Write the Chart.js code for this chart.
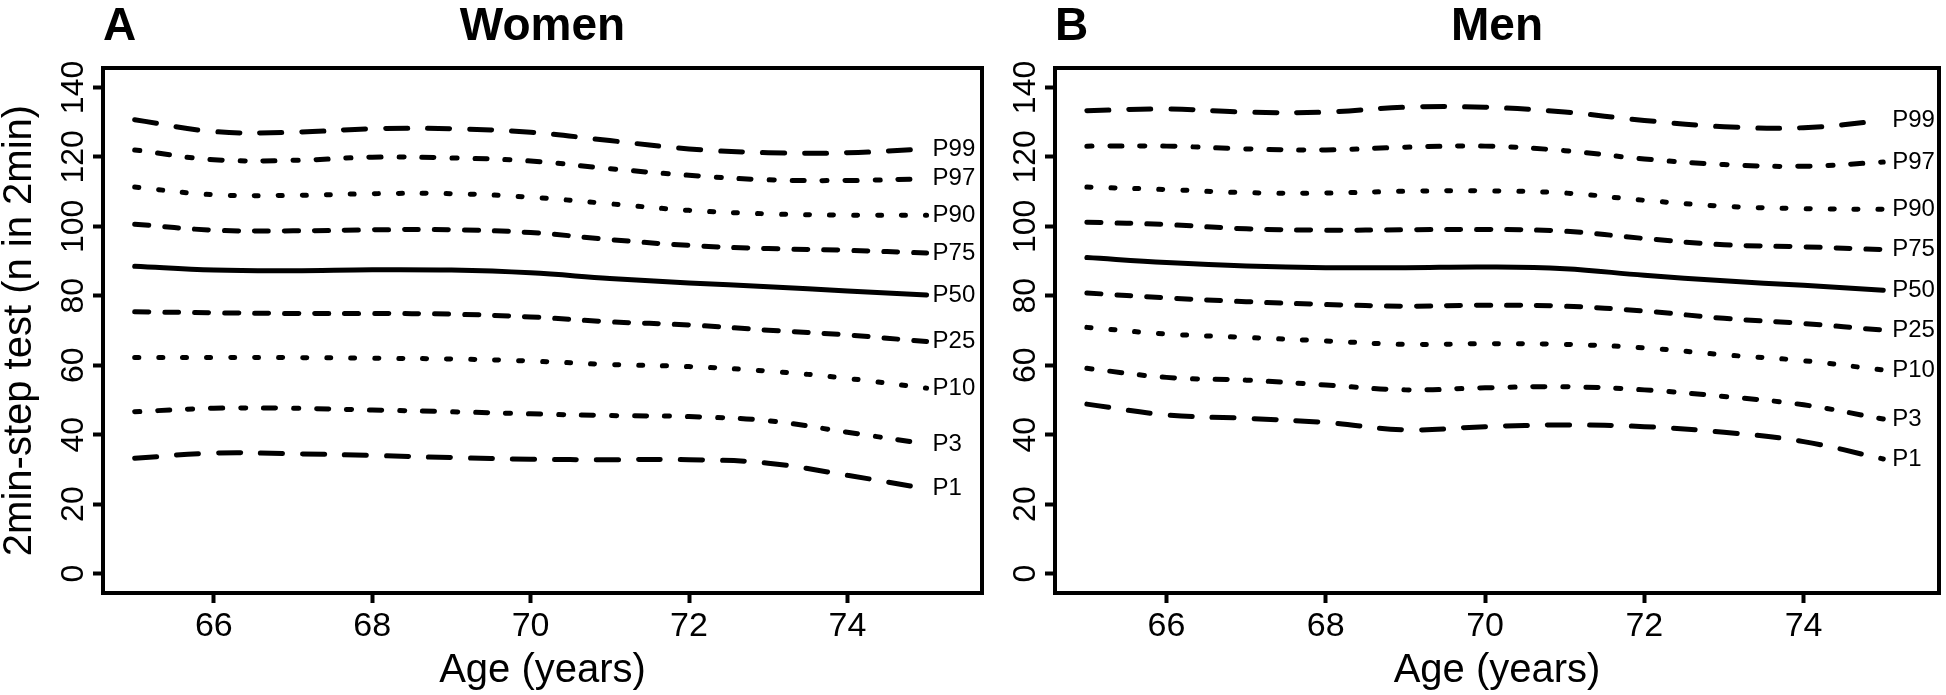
<!DOCTYPE html>
<html>
<head>
<meta charset="utf-8">
<script src="https://cdn.jsdelivr.net/npm/chart.js@4.4.1/dist/chart.umd.min.js"></script>
<style>
  html, body { margin: 0; padding: 0; background: #fff; }
  #wrap { position: relative; width: 1946px; height: 695px; overflow: hidden; }
  canvas { position: absolute; top: 0; }
</style>
</head>
<body>
<div id="wrap">
  <canvas id="women" width="1000" height="695" style="left:0px"></canvas>
  <canvas id="men" width="946" height="695" style="left:1000px"></canvas>
</div>
<script>
// ages (x) and axis ticks
const ages = [65, 66, 67, 68, 69, 70, 71, 72, 73, 74, 75];
const xTicks = [66, 68, 70, 72, 74];
const yTicks = [0, 20, 40, 60, 80, 100, 120, 140];
const percentiles = ['P1', 'P3', 'P10', 'P25', 'P50', 'P75', 'P90', 'P97', 'P99'];

// Women, 2min-step test percentiles by age
const womenP1  = [33.2, 34.7, 34.5, 34.0, 33.4, 32.9, 32.8, 32.8, 31.8, 28.3, 24.4];
const womenP3  = [46.6, 47.6, 47.6, 47.1, 46.6, 46.0, 45.5, 45.2, 44.0, 40.7, 37.3];
const womenP10 = [62.2, 62.2, 62.2, 62.0, 61.8, 61.2, 60.2, 59.6, 58.3, 56.2, 53.4];
const womenP25 = [75.4, 75.1, 74.9, 74.9, 74.7, 73.9, 72.5, 71.6, 70.1, 68.7, 66.8];
const womenP50 = [88.5, 87.4, 87.2, 87.5, 87.4, 86.6, 85.0, 83.7, 82.6, 81.4, 80.2];
const womenP75 = [100.6, 98.9, 98.7, 99.0, 99.0, 98.2, 96.2, 94.5, 93.6, 93.1, 92.3];
const womenP90 = [111.3, 109.1, 108.9, 109.4, 109.4, 108.4, 106.5, 104.6, 103.6, 103.2, 103.2];
const womenP97 = [122.0, 119.2, 119.0, 119.9, 119.7, 118.8, 116.6, 114.7, 113.4, 113.2, 113.7];
const womenP99 = [130.7, 127.3, 127.1, 128.1, 128.1, 127.1, 124.7, 122.3, 121.2, 121.2, 122.3];

// Men
const menP1  = [48.8, 45.7, 44.7, 43.5, 41.4, 42.3, 42.8, 42.3, 40.7, 38.0, 33.0];
const menP3  = [59.1, 56.5, 55.7, 54.3, 52.9, 53.5, 53.8, 52.9, 51.0, 48.6, 44.5];
const menP10 = [70.9, 69.0, 68.0, 67.0, 66.0, 66.2, 66.0, 65.0, 63.0, 61.3, 58.6];
const menP25 = [80.8, 79.4, 78.3, 77.5, 77.0, 77.3, 77.0, 75.6, 73.5, 72.0, 70.1];
const menP50 = [91.0, 89.6, 88.6, 88.1, 88.1, 88.3, 87.8, 85.9, 84.3, 83.0, 81.6];
const menP75 = [101.2, 100.5, 99.3, 98.9, 99.0, 99.1, 98.6, 96.5, 94.7, 94.1, 93.3];
const menP90 = [111.3, 110.6, 109.7, 109.6, 110.1, 110.2, 109.6, 107.5, 105.8, 105.1, 104.9];
const menP97 = [123.1, 123.1, 122.3, 122.0, 122.8, 123.1, 121.8, 119.4, 117.8, 117.3, 118.5];
const menP99 = [133.3, 133.8, 132.9, 132.9, 134.3, 134.3, 132.9, 130.5, 128.7, 128.4, 130.5];

const womenSeries = [womenP1, womenP3, womenP10, womenP25, womenP50, womenP75, womenP90, womenP97, womenP99];
const menSeries = [menP1, menP3, menP10, menP25, menP50, menP75, menP90, menP97, menP99];

// line styles
const DASH = {
  P1: [22, 20], P99: [22, 20],
  P3: [5, 18, 12, 18], P97: [5, 18, 12, 18],
  P10: [4, 20], P90: [4, 20],
  P25: [14, 16], P75: [14, 16],
  P50: []
};

const FONT = "'Liberation Sans', Arial, Helvetica, sans-serif";
Chart.defaults.font.family = FONT;
Chart.defaults.color = '#000';

// box round the plot + panel letter + end labels
const panelDeco = {
  id: 'panelDeco',
  afterDatasetsDraw(chart, args, opts) {
    const ctx = chart.ctx;
    const a = chart.chartArea;
    ctx.save();
    ctx.strokeStyle = '#000';
    ctx.lineWidth = 4;
    ctx.strokeRect(a.left, a.top, a.right - a.left, a.bottom - a.top);

    ctx.fillStyle = '#000';
    ctx.font = 'bold 46px ' + FONT;
    ctx.textAlign = 'left';
    ctx.textBaseline = 'middle';
    ctx.fillText(opts.letter, a.left, 27);

    ctx.font = '24px ' + FONT;
    chart.data.datasets.forEach((ds, i) => {
      const pts = chart.getDatasetMeta(i).data;
      const p = pts[pts.length - 1];
      ctx.fillText(ds.label, p.x + opts.gap, p.y);
    });
    ctx.restore();
  }
};

function makePanel(id, letter, title, series, yTitle, yWidth, rightPad, gap) {
  const datasets = percentiles.map((p, i) => ({
    label: p,
    data: ages.map((a, j) => ({ x: a, y: series[i][j] })),
    borderColor: '#000',
    borderWidth: 5,
    borderDash: DASH[p],
    borderCapStyle: 'round',
    pointRadius: 0,
    tension: 0.4,
    fill: false
  }));

  new Chart(document.getElementById(id), {
    type: 'line',
    data: { datasets },
    plugins: [panelDeco],
    options: {
      responsive: false,
      animation: false,
      events: [],
      devicePixelRatio: 1,
      layout: { padding: { left: 0, right: rightPad, top: 0, bottom: 0 } },
      plugins: {
        legend: { display: false },
        tooltip: { enabled: false },
        title: {
          display: true,
          text: title,
          fullSize: false,
          color: '#000',
          font: { size: 46, weight: 'bold', lineHeight: 1 },
          padding: { top: 4, bottom: 18 }
        },
        panelDeco: { letter, gap }
      },
      scales: {
        x: {
          type: 'linear',
          min: 64.6,
          max: 75.7,
          afterBuildTicks: s => { s.ticks = xTicks.map(v => ({ value: v })); },
          afterFit: s => { s.height = 102; },
          grid: { drawOnChartArea: false, drawTicks: true, tickLength: 10, tickWidth: 4, color: '#000' },
          border: { display: false },
          ticks: { font: { size: 34 }, padding: 3, color: '#000', maxRotation: 0 },
          title: {
            display: true, text: 'Age (years)', color: '#000',
            font: { size: 40, lineHeight: 1 }, padding: { top: 0, bottom: 4 }
          }
        },
        y: {
          type: 'linear',
          min: -5.6,
          max: 145.6,
          afterBuildTicks: s => { s.ticks = yTicks.map(v => ({ value: v })); },
          afterFit: s => { s.width = yWidth; },
          grid: { drawOnChartArea: false, drawTicks: true, tickLength: 10, tickWidth: 4, color: '#000' },
          border: { display: false },
          ticks: { font: { size: 32 }, padding: -8, color: '#000', minRotation: 90, maxRotation: 90, crossAlign: 'center' },
          title: {
            display: yTitle, text: '2min-step test (n in 2min)', color: '#000',
            font: { size: 40, lineHeight: 1 }, padding: { top: 0, bottom: 0 }
          }
        }
      }
    }
  });
}

makePanel('women', 'A', 'Women', womenSeries, true, 103, 18, 6);
makePanel('men', 'B', 'Men', menSeries, false, 55, 7, 9);
</script>
</body>
</html>
